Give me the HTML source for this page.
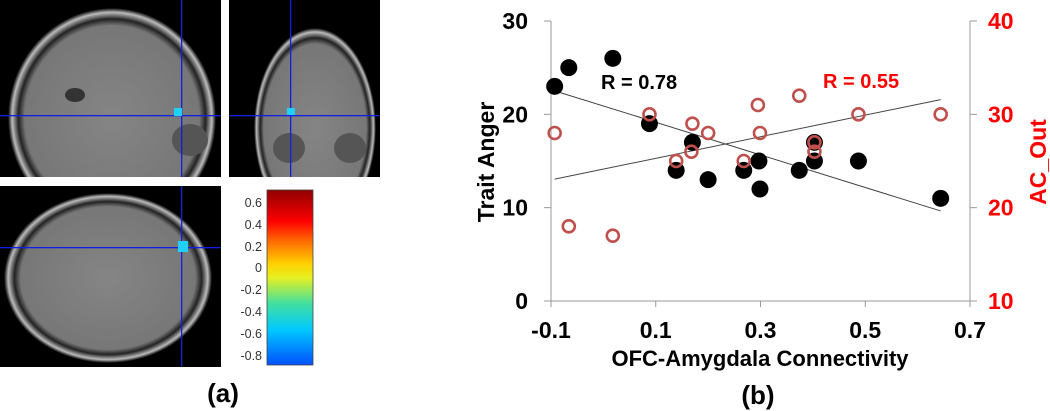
<!DOCTYPE html>
<html><head><meta charset="utf-8"><style>
body{margin:0;background:#fff;width:1050px;height:411px;overflow:hidden;font-family:"Liberation Sans",Arial,sans-serif}
svg{position:absolute;left:0;top:0}
</style></head><body>
<svg width="1050" height="411" viewBox="0 0 1050 411">
<defs>
<linearGradient id="cb" x1="0" y1="1" x2="0" y2="0">
<stop offset="0" stop-color="#0050ff"/><stop offset="0.2" stop-color="#00c8ff"/><stop offset="0.35" stop-color="#40e0a0"/>
<stop offset="0.5" stop-color="#e8f020"/><stop offset="0.58" stop-color="#ffd000"/><stop offset="0.72" stop-color="#ff6000"/>
<stop offset="0.82" stop-color="#ff0000"/><stop offset="1" stop-color="#900000"/></linearGradient>
<radialGradient id="br" cx="0.5" cy="0.5" r="0.5"><stop offset="0" stop-color="#858585"/><stop offset="0.84" stop-color="#777"/><stop offset="0.9" stop-color="#222"/><stop offset="0.96" stop-color="#bbb"/><stop offset="1" stop-color="#000"/></radialGradient>
<clipPath id="c1"><rect x="0" y="0" width="221" height="177"/></clipPath>
<clipPath id="c2"><rect x="229" y="0" width="151" height="177"/></clipPath>
<clipPath id="c3"><rect x="0" y="186" width="221" height="181"/></clipPath>
</defs>
<g clip-path="url(#c1)">
<rect x="0" y="0" width="221" height="177" fill="#000"/>
<ellipse cx="112" cy="118" rx="104" ry="110" fill="url(#br)"/>
<ellipse cx="75" cy="95" rx="10" ry="7" fill="#333"/>
<ellipse cx="190" cy="140" rx="18" ry="16" fill="#555"/>
<rect x="0" y="115" width="221" height="1.3" fill="#1020e0"/><rect x="181" y="0" width="1.3" height="177" fill="#1020e0"/>
<rect x="174" y="108" width="8" height="8" fill="#20d0ff"/>
</g>
<g clip-path="url(#c2)">
<rect x="229" y="0" width="151" height="177" fill="#000"/>
<ellipse cx="315" cy="128" rx="61" ry="100" fill="url(#br)"/>
<ellipse cx="289" cy="148" rx="16" ry="15" fill="#555"/><ellipse cx="350" cy="148" rx="16" ry="15" fill="#555"/>
<rect x="229" y="115" width="151" height="1.3" fill="#1020e0"/><rect x="290" y="0" width="1.3" height="177" fill="#1020e0"/>
<rect x="287" y="108" width="8" height="7" fill="#20d0ff"/>
</g>
<g clip-path="url(#c3)">
<rect x="0" y="186" width="221" height="181" fill="#000"/>
<ellipse cx="108" cy="278" rx="104" ry="85" fill="url(#br)"/>
<rect x="0" y="247" width="221" height="1.3" fill="#1020e0"/><rect x="181" y="186" width="1.3" height="181" fill="#1020e0"/>
<rect x="178" y="241" width="10" height="11" fill="#20d0ff"/>
</g>
<g>
<rect x="267" y="190" width="46" height="175" fill="url(#cb)" stroke="#444" stroke-width="0.8"/>
<g font-size="12.5" fill="#333" text-anchor="end">
<text x="262" y="207">0.6</text><text x="262" y="229">0.4</text><text x="262" y="251">0.2</text><text x="262" y="272">0</text>
<text x="262" y="294">-0.2</text><text x="262" y="316">-0.4</text><text x="262" y="338">-0.6</text><text x="262" y="360">-0.8</text></g>
</g>
<text x="223" y="402" font-size="26" font-weight="bold" text-anchor="middle">(a)</text>
<g id="chart"></g>
<text x="758" y="404" font-size="26" font-weight="bold" text-anchor="middle">(b)</text>
</svg>
<script>
const xs=[-0.093,-0.066,0.018,0.088,0.17,0.139,0.2,0.268,0.297,0.299,0.374,0.403,0.403,0.487,0.644];
const anger=[23,25,26,19,17,14,13,14,15,12,14,17,15,15,11];
const xsRed=[-0.093,-0.066,0.018,0.088,0.17,0.168,0.139,0.2,0.268,0.295,0.299,0.374,0.403,0.403,0.487,0.644];
const acOut=[28,18,17,30,29,26,25,28,25,31,28,32,27,26,30,30];
const xTicks=[-0.1,0.1,0.3,0.5,0.7];
const yTicks=[0,10,20,30];
const y2Ticks=[10,20,30,40];
const NS="http://www.w3.org/2000/svg";
const L=551,R=970,T=21,B=301;
const sx=v=>L+(v+0.1)/0.8*(R-L);
const sy=v=>B-v/30*(B-T);
const sy2=v=>B-(v-10)/30*(B-T);
const g=document.getElementById('chart');
function mk(t,a,txt){const e=document.createElementNS(NS,t);for(const k in a)e.setAttribute(k,a[k]);if(txt!==undefined)e.textContent=txt;g.appendChild(e);return e;}
let e;
e=mk('line',{x1:L,y1:T,x2:L,y2:B,stroke:'#999','stroke-width':1});

e=mk('line',{x1:R,y1:T,x2:R,y2:B,stroke:'#999','stroke-width':1});

e=mk('line',{x1:L,y1:B,x2:R,y2:B,stroke:'#999','stroke-width':1});

xTicks.forEach(t=>{mk('line',{x1:sx(t),y1:B,x2:sx(t),y2:B+6,stroke:'#999'});
e=mk('text',{x:sx(t),y:B+37,'font-size':23,'font-weight':'bold','text-anchor':'middle'},String(t));
});
yTicks.forEach(t=>{mk('line',{x1:L-7,y1:sy(t),x2:L,y2:sy(t),stroke:'#999'});
e=mk('text',{x:L-23,y:sy(t)+8,'font-size':23,'font-weight':'bold','text-anchor':'end'},String(t));
});
y2Ticks.forEach(t=>{mk('line',{x1:R,y1:sy2(t),x2:R+7,y2:sy2(t),stroke:'#999'});
e=mk('text',{x:R+18,y:sy2(t)+8,'font-size':23,'font-weight':'bold',fill:'#ff0000'},String(t));
});
function fit(x,y){const n=x.length;const mx=x.reduce((a,b)=>a+b)/n,my=y.reduce((a,b)=>a+b)/n;let sxy=0,sxx=0;for(let i=0;i<n;i++){sxy+=(x[i]-mx)*(y[i]-my);sxx+=(x[i]-mx)**2;}const b=sxy/sxx;return [my-b*mx,b];}
const x0=-0.093,x1=0.644;
const [a1,b1]=fit(xs,anger);
e=mk('line',{x1:sx(x0),y1:sy(a1+b1*x0),x2:sx(x1),y2:sy(a1+b1*x1),stroke:'#444','stroke-width':1});

const [a2,b2]=fit(xsRed,acOut);
e=mk('line',{x1:sx(x0),y1:sy2(a2+b2*x0),x2:sx(x1),y2:sy2(a2+b2*x1),stroke:'#444','stroke-width':1});

xs.forEach((x,i)=>{e=mk('circle',{cx:sx(x),cy:sy(anger[i]),r:8.5,fill:'#000'});
});
xsRed.forEach((x,i)=>{e=mk('circle',{cx:sx(x),cy:sy2(acOut[i]),r:6,fill:'none',stroke:'#c0504d','stroke-width':2.6});
});
e=mk('text',{x:601,y:89,'font-size':20,'font-weight':'bold'},'R = 0.78');

e=mk('text',{x:823,y:88,'font-size':20,'font-weight':'bold',fill:'#ff0000'},'R = 0.55');

e=mk('text',{x:0,y:0,'font-size':23,'font-weight':'bold','text-anchor':'middle',transform:'translate(494,162) rotate(-90)'},'Trait Anger');

e=mk('text',{x:0,y:0,'font-size':23,'font-weight':'bold','text-anchor':'middle',fill:'#ff0000',transform:'translate(1046,162) rotate(-90)'},'AC_Out');

e=mk('text',{x:760,y:366,'font-size':22,'font-weight':'bold','text-anchor':'middle'},'OFC-Amygdala Connectivity');

</script>
</body></html>
